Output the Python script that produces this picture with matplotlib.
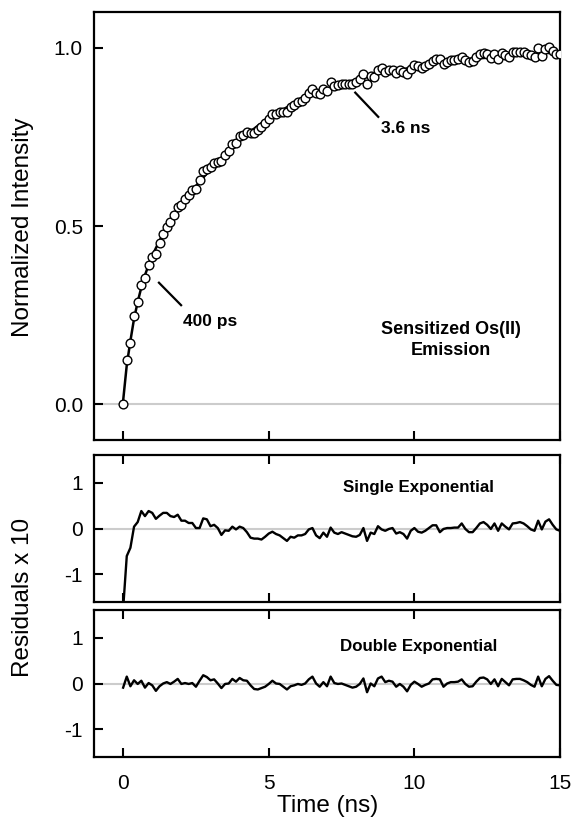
import numpy as np
import matplotlib
matplotlib.use('Agg')
import matplotlib.pyplot as plt

plt.rcParams['font.family'] = ['Liberation Sans', 'DejaVu Sans']
plt.rcParams['axes.unicode_minus'] = False

# ---- data ----
dt = 0.125  # ns between samples
n_pts = 121

# smooth fit curve (top panel line)
fit = [0.010, 0.110, 0.178, 0.240, 0.287, 0.328, 0.362, 0.391, 0.416, 0.438,
       0.459, 0.477, 0.494, 0.512, 0.528, 0.544, 0.560, 0.574, 0.588, 0.600,
       0.612, 0.624, 0.636, 0.647, 0.658, 0.669, 0.680, 0.691, 0.701, 0.711,
       0.721, 0.730, 0.739, 0.748, 0.757, 0.765, 0.773, 0.781, 0.788, 0.795,
       0.802, 0.809, 0.815, 0.821, 0.827, 0.833, 0.839, 0.844, 0.849, 0.854,
       0.859, 0.864, 0.868, 0.872, 0.876, 0.880, 0.884, 0.888, 0.891, 0.895,
       0.898, 0.901, 0.904, 0.907, 0.910, 0.913, 0.916, 0.918, 0.921, 0.923,
       0.926, 0.928, 0.930, 0.932, 0.934, 0.936, 0.938, 0.940, 0.942, 0.944,
       0.948, 0.949, 0.951, 0.952, 0.954, 0.955, 0.957, 0.958, 0.960, 0.961,
       0.962, 0.963, 0.964, 0.965, 0.966, 0.967, 0.969, 0.970, 0.971, 0.971,
       0.972, 0.973, 0.974, 0.974, 0.976, 0.977, 0.977, 0.978, 0.979, 0.979,
       0.980, 0.980, 0.982, 0.982, 0.983, 0.984, 0.985, 0.985, 0.986, 0.986,
       0.987]

# residuals x 10, single exponential fit
res_single = [-1.75, -0.60, -0.42, 0.04, 0.14, 0.38, 0.27, 0.38, 0.34, 0.21,
              0.28, 0.34, 0.34, 0.27, 0.25, 0.30, 0.17, 0.17, 0.12, 0.12,
              0.01, 0.01, 0.22, 0.20, 0.05, 0.08, 0.01, -0.14, -0.04, -0.05,
              0.04, -0.02, 0.04, 0.01, -0.08, -0.20, -0.22, -0.22, -0.24, -0.18,
              -0.11, -0.07, -0.12, -0.15, -0.21, -0.27, -0.18, -0.20, -0.15, -0.15,
              -0.12, -0.02, 0.01, -0.15, -0.21, -0.09, -0.18, 0.02, -0.09, -0.12,
              -0.08, -0.11, -0.14, -0.17, -0.18, -0.14, 0.01, -0.27, -0.09, -0.12,
              0.05, -0.02, -0.05, -0.01, 0.01, -0.11, -0.08, -0.12, -0.22, -0.05,
              0.01, -0.07, -0.09, -0.05, 0.01, 0.07, 0.07, -0.08, -0.01, 0.01,
              0.01, 0.02, 0.02, 0.11, -0.01, -0.08, -0.08, 0.01, 0.11, 0.14,
              0.08, -0.01, 0.11, -0.05, 0.11, 0.04, -0.02, 0.11, 0.12, 0.14,
              0.11, 0.05, -0.02, -0.05, 0.17, -0.02, 0.15, 0.20, 0.08, -0.02,
              -0.05]

# residuals x 10, double exponential fit
res_double = [-0.09, 0.15, -0.06, 0.07, -0.01, 0.06, -0.09, 0.01, -0.04, -0.16,
              -0.06, 0.00, 0.03, -0.01, 0.04, 0.10, -0.01, 0.01, -0.01, 0.01,
              -0.07, 0.06, 0.18, 0.14, 0.07, 0.09, 0.00, -0.10, -0.01, 0.00,
              0.10, 0.04, 0.12, 0.07, 0.06, -0.04, -0.12, -0.13, -0.10, -0.07,
              -0.01, 0.06, 0.00, -0.01, -0.07, -0.13, -0.06, -0.04, -0.01, -0.03,
              0.00, 0.09, 0.15, 0.00, -0.07, 0.03, -0.06, 0.15, 0.01, -0.01,
              0.00, -0.03, -0.06, -0.09, -0.07, -0.01, 0.11, -0.19, 0.00, -0.06,
              0.11, 0.15, 0.03, 0.06, 0.04, -0.07, -0.01, -0.07, -0.17, -0.03,
              0.04, -0.01, -0.07, -0.03, 0.00, 0.09, 0.10, 0.09, -0.07, 0.00,
              0.03, 0.03, 0.04, 0.09, -0.01, -0.07, -0.06, 0.04, 0.12, 0.13,
              0.09, -0.01, 0.09, -0.06, 0.10, 0.03, -0.04, 0.09, 0.10, 0.10,
              0.07, 0.03, -0.03, -0.07, 0.15, -0.06, 0.10, 0.16, 0.06, -0.03,
              -0.04]

t = dt * np.arange(n_pts)
fit = np.array(fit)
res_single = np.array(res_single)
res_double = np.array(res_double)
intensity = fit + res_double / 10.0   # measured points

##########################################################################

fig = plt.figure(figsize=(5.73, 8.19), dpi=100)
L, W = 94 / 573, (560 - 94) / 573
ax1 = fig.add_axes([L, 1 - 440 / 819, W, 428 / 819])
ax2 = fig.add_axes([L, 1 - 602 / 819, W, 147 / 819])
ax3 = fig.add_axes([L, 1 - 757 / 819, W, 147 / 819])

for ax in (ax1, ax2, ax3):
    ax.set_xlim(-1, 15)
    ax.set_xticks([0, 5, 10, 15])
    for s in ax.spines.values():
        s.set_linewidth(1.6)
    ax.tick_params(direction='in', length=6.5, width=1.5, labelsize=15, pad=8)
    ax.axhline(0, color='#cccccc', lw=1.5, zorder=0)

# top panel
ax1.plot(t, fit, '-', color='k', lw=1.8, zorder=2)
ax1.plot(t, intensity, 'o', ms=6.3, mfc='white', mec='k', mew=1.0, zorder=3)
ax1.set_ylim(-0.1, 1.1)
ax1.set_yticks([0.0, 0.5, 1.0])
ax1.set_yticklabels(['0.0', '0.5', '1.0'])
ax1.tick_params(axis='x', labelbottom=False)
ax1.plot([1.23, 1.99], [0.341, 0.278], color='k', lw=1.6)
ax1.text(2.06, 0.233, '400 ps', fontsize=12.5, fontweight='bold', va='center')
ax1.plot([7.97, 8.76], [0.874, 0.806], color='k', lw=1.6)
ax1.text(8.84, 0.772, '3.6 ns', fontsize=12.5, fontweight='bold', va='center')
ax1.text(11.27, 0.18, 'Sensitized Os(II)\nEmission', fontsize=13,
         fontweight='bold', ha='center', va='center', linespacing=1.3)

# residual panels
for ax, res, name, ty in ((ax2, res_single, 'Single Exponential', 0.89),
                          (ax3, res_double, 'Double Exponential', 0.81)):
    ax.plot(t, res, '-', color='k', lw=1.7)
    ax.set_ylim(-1.6, 1.6)
    ax.set_yticks([-1, 0, 1])
    ax.tick_params(axis='x', top=True, pad=12)
    ax.text(10.15, ty, name, fontsize=12.2, fontweight='bold', ha='center', va='center')
ax2.tick_params(axis='x', labelbottom=False)

fig.text(23 / 573, 1 - 227 / 819, 'Normalized Intensity', rotation=90,
         ha='center', va='center', fontsize=17.5)
fig.text(23 / 573, 1 - 597 / 819, 'Residuals x 10', rotation=90,
         ha='center', va='center', fontsize=17.5)
fig.text(328 / 573, 1 - 806 / 819, 'Time (ns)', ha='center', va='center',
         fontsize=17.5)

fig.savefig('out.png', dpi=100)
